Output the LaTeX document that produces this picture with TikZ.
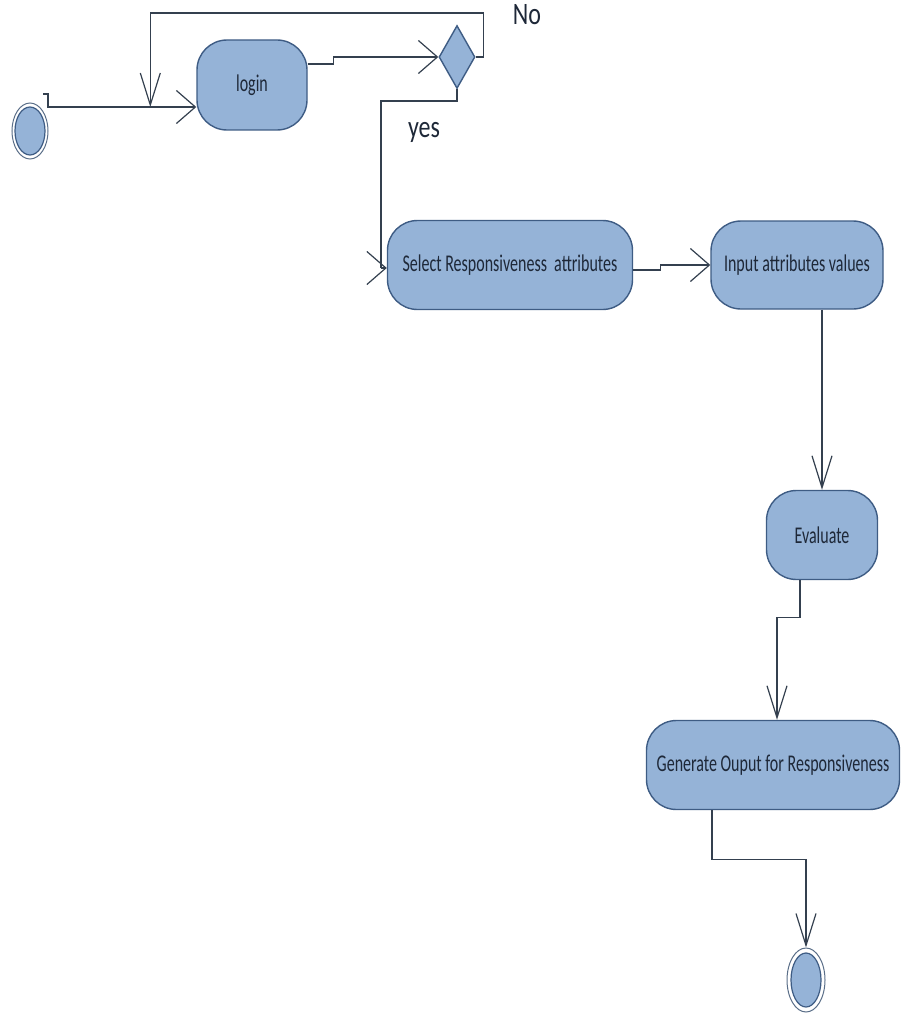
\documentclass[tikz,border=0pt]{standalone}
\usepackage{fontspec}
\usepackage{graphicx}
\setmainfont{Carlito}
\usetikzlibrary{shapes.geometric,arrows.meta,calc}

\definecolor{actfill}{HTML}{95B3D7}
\definecolor{actline}{HTML}{3E5C84}
\definecolor{connline}{HTML}{34404F}
\definecolor{acttext}{HTML}{1E2838}
\definecolor{ringline}{HTML}{5A6E88}

% tall, narrow lettering
\newcommand{\talltext}[2]{\scalebox{1}[#1]{#2}}

\tikzset{
  activity/.style={draw=actline, fill=actfill, line width=1.4pt,
    rounded corners=30pt, inner sep=0pt, text=acttext,
    font=\fontsize{16}{16}\selectfont},
  decision/.style={draw=actline, fill=actfill, line width=1.4pt,
    diamond, inner sep=0pt, minimum width=36pt, minimum height=63pt},
  ring/.style={draw=ringline, line width=1pt, ellipse, fill=white},
  core/.style={draw=actline, fill=actfill, line width=1.2pt, ellipse},
  conn/.style={draw=connline, line width=1.4pt},
  harr/.style={conn, -{Straight Barb[length=19pt,width=33pt,line width=1.2pt]}},
  varr/.style={conn, -{Straight Barb[length=32pt,width=20pt,line width=1.2pt]}},
  guard/.style={text=acttext, inner sep=1pt, font=\fontsize{24}{24}\selectfont},
}

\begin{document}
\begin{tikzpicture}[x=1pt, y=-1pt]
\useasboundingbox (0,0) rectangle (903,1014);

% start and end states
\node[ring, minimum width=36pt, minimum height=56pt] (start) at (30,131) {};
\node[core, minimum width=30pt, minimum height=48pt] at (start.center) {};
\node[ring, minimum width=38pt, minimum height=64pt] (end) at (806,980) {};
\node[core, minimum width=30pt, minimum height=54pt] at (end.center) {};

% activities
\node[activity, minimum width=110pt, minimum height=90pt] (login) at (252,85)
  {\talltext{1.5}{login}};
\node[decision] (dec) at (457,57) {};
\node[activity, minimum width=245pt, minimum height=89pt] (sel) at (510,265)
  {\talltext{1.5}{Select Responsiveness\ \ attributes}};
\node[activity, minimum width=172pt, minimum height=88pt] (inp) at (797,265)
  {\talltext{1.5}{Input attributes values}};
\node[activity, minimum width=111pt, minimum height=89pt] (eval) at (822,535)
  {\talltext{1.5}{Evaluate}};
\node[activity, minimum width=253pt, minimum height=89pt] (gen) at (773,765)
  {\talltext{1.5}{Generate Ouput for Responsiveness}};

% guard labels
\node[guard] (nolab) at (527,15) {\talltext{1.3}{No}};
\node[guard] (yeslab) at (424,132) {\talltext{1.3}{yes}};

% flows
\draw[harr] ($(start.center)+(13,-37)$) -- ++(5,0) |- ($(login.west)+(0,22)$);
\draw[harr] ($(login.east)+(0,-21)$) -- ++(26,0) |- (dec.west);
\draw[varr] (dec.east) -- ++(8,0) -- ++(0,-44) -| ($(login.west)+(-46,22)$);
\draw[conn] (dec.south) -- ++(0,12) -| ($(sel.west)+(-6,3)$);
\draw[harr] ($(sel.west)+(-6,3)$) -- ($(sel.west)+(0,3)$);
\draw[harr] ($(sel.east)+(0,5)$) -- ++(27,0) |- (inp.west);
\draw[varr] (inp.south -| eval.north) -- (eval.north);
\draw[varr] ($(eval.south)+(-22,0)$) -- ++(0,37) -| ($(gen.north)+(4,0)$);
\draw[varr] ($(gen.south)+(-61,0)$) -- ++(0,49) -| (end.north);
\end{tikzpicture}
\end{document}
